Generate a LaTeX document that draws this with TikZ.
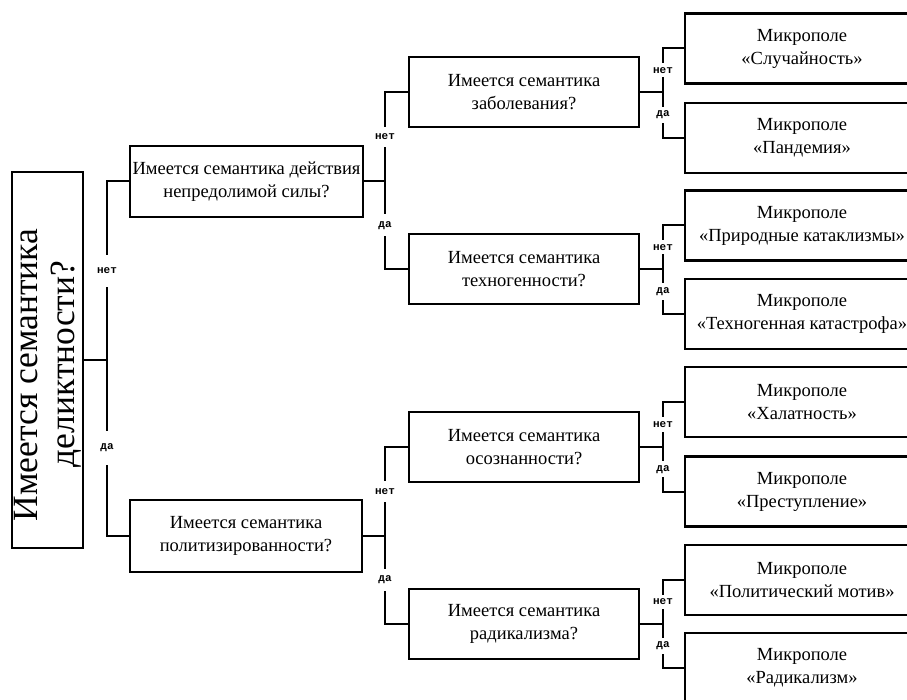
\documentclass[tikz,border=0pt]{standalone}
\usepackage{fontspec}
\setmainfont{Liberation Serif}
\newfontfamily\monofnt{Liberation Mono}
\newcommand\mybranch[5][]{%
  \draw[conn] (#2) -- (#3 |- #2);
  \draw[conn] (#4.west) -- (#3 |- #4.west) -- node[lbl,#1]{нет} (#3 |- #2) -- node[lbl,#1]{да} (#3 |- #5.west) -- (#5.west);
}
\begin{document}
\begin{tikzpicture}[x=1pt,y=-1pt,
  box/.style={draw,line width=2.3pt,minimum width=230pt,minimum height=70pt,align=center,
    font=\fontsize{18.5}{23}\selectfont,inner sep=0pt},
  leaf/.style={box,minimum width=234pt},
  lbl/.style={fill=white,font=\monofnt\bfseries\fontsize{11}{11}\selectfont,inner xsep=1pt,inner ysep=4pt},
  conn/.style={line width=2pt}]
\useasboundingbox (0,0) rectangle (907,700);
\clip (0,0) rectangle (907,700);
% root
\node[box,rotate=90,minimum width=376pt,minimum height=71pt,font=\fontsize{35.5}{37}\selectfont] (root) at (47.5,360) {Имеется семантика\hspace*{30pt}\\деликтности?\hspace*{8pt}};
% level 1
\node[box,minimum width=233pt,minimum height=71pt] (A) at (246.5,181.5) {Имеется семантика действия\\непредолимой силы?};
\node[box,minimum width=232pt,minimum height=72pt] (B) at (246,536) {Имеется семантика\\политизированности?};
% level 2
\node[box] (A1) at (524,92) {Имеется семантика\\заболевания?};
\node[box] (A2) at (524,269) {Имеется семантика\\техногенности?};
\node[box] (B1) at (524,447) {Имеется семантика\\осознанности?};
\node[box] (B2) at (524,624) {Имеется семантика\\радикализма?};
% leaves
\node[leaf] (L1) at (802,48.5) {Микрополе\\«Случайность»};
\node[leaf] (L2) at (802,138) {Микрополе\\«Пандемия»};
\node[leaf] (L3) at (802,225.5) {Микрополе\\«Природные катаклизмы»};
\node[leaf] (L4) at (802,314) {Микрополе\\«Техногенная катастрофа»};
\node[leaf] (L5) at (802,402) {Микрополе\\«Халатность»};
\node[leaf] (L6) at (802,491.5) {Микрополе\\«Преступление»};
\node[leaf] (L7) at (802,580) {Микрополе\\«Политический мотив»};
\node[leaf] (L8) at (802,668) {Микрополе\\«Радикализм»};
% junction columns
\coordinate (j0) at (107,0);
\coordinate (j1) at (385,0);
\coordinate (j2) at (663,0);
% connectors
\mybranch[inner ysep=13pt]{root.south}{j0}{A}{B}
\mybranch[inner ysep=7pt]{A.east}{j1}{A1}{A2}
\mybranch[inner ysep=7pt]{B.east}{j1}{B1}{B2}
\mybranch{A1.east}{j2}{L1}{L2}
\mybranch{A2.east}{j2}{L3}{L4}
\mybranch{B1.east}{j2}{L5}{L6}
\mybranch{B2.east}{j2}{L7}{L8}
\end{tikzpicture}
\end{document}
